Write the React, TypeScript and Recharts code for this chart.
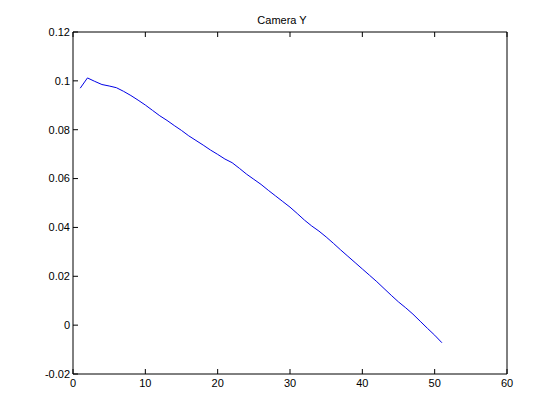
import { LineChart, Line, XAxis, YAxis } from "recharts";

const frames = [
  1, 2, 3, 4, 5, 6, 7, 8, 9, 10, 11, 12, 13, 14, 15, 16, 17, 18, 19, 20, 21,
  22, 23, 24, 25, 26, 27, 28, 29, 30, 31, 32, 33, 34, 35, 36, 37, 38, 39, 40,
  41, 42, 43, 44, 45, 46, 47, 48, 49, 50, 51,
];

const cameraY = [
  0.097, 0.1012, 0.0998, 0.0985, 0.0979, 0.0972, 0.0957, 0.094, 0.0921,
  0.0901, 0.0879, 0.0857, 0.0838, 0.0817, 0.0797, 0.0775, 0.0756, 0.0737,
  0.0717, 0.0699, 0.068, 0.0665, 0.0642, 0.0618, 0.0597, 0.0576, 0.0552,
  0.0529, 0.0506, 0.0483, 0.0457, 0.043, 0.0406, 0.0385, 0.0361, 0.0335,
  0.0308, 0.0282, 0.0256, 0.023, 0.0204, 0.0178, 0.015, 0.0122, 0.0095,
  0.0071, 0.0045, 0.0016, -0.0013, -0.0041, -0.0072,
];

const xTicks = [0, 10, 20, 30, 40, 50, 60];
const yTicks = [-0.02, 0, 0.02, 0.04, 0.06, 0.08, 0.1, 0.12];

const data = frames.map((f, i) => ({ frame: f, y: cameraY[i] }));

const font = { fontSize: 11, fill: "#000", fontFamily: "'Liberation Sans', Arial, sans-serif" };
const fmtY = (v: number) => String(Number(v.toFixed(2)));
const noLabel = () => <g />;

export default function App() {
  return (
    <div style={{ position: "absolute", left: 0, top: 0, width: 560, height: 420, background: "#fff" }}>
      <div
        style={{
          position: "absolute",
          left: 232,
          width: 100,
          top: 13,
          textAlign: "center",
          fontSize: 11,
          fontFamily: "'Liberation Sans', Arial, sans-serif",
          lineHeight: "14px",
        }}
      >
        Camera Y
      </div>
      <LineChart
        width={560}
        height={420}
        data={data}
        margin={{ top: 31, right: 52, bottom: 0, left: 0 }}
      >
        <XAxis
          dataKey="frame"
          type="number"
          domain={[0, 60]}
          ticks={xTicks}
          height={46}
          tickSize={-5}
          tickMargin={10}
          stroke="#000"
          tick={font}
        />
        <XAxis
          xAxisId="top"
          orientation="top"
          dataKey="frame"
          type="number"
          domain={[0, 60]}
          ticks={xTicks}
          height={1}
          tickSize={-5}
          stroke="#000"
          tick={noLabel}
        />
        <YAxis
          type="number"
          domain={[-0.02, 0.12]}
          ticks={yTicks}
          width={73}
          tickSize={-5}
          tickMargin={8}
          stroke="#000"
          tick={font}
          tickFormatter={fmtY}
        />
        <YAxis
          yAxisId="right"
          orientation="right"
          type="number"
          domain={[-0.02, 0.12]}
          ticks={yTicks}
          width={1}
          tickSize={-5}
          stroke="#000"
          tick={noLabel}
        />
        <Line
          dataKey="y"
          stroke="#0000e6"
          strokeWidth={1}
          dot={false}
          isAnimationActive={false}
        />
      </LineChart>
    </div>
  );
}
